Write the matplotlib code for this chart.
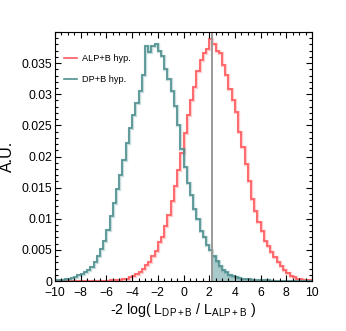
import matplotlib
matplotlib.use("Agg")
import matplotlib.pyplot as plt
from matplotlib.ticker import MultipleLocator, FuncFormatter
import numpy as np

plt.rcParams['font.family'] = ['Liberation Sans', 'DejaVu Sans']
plt.rcParams['mathtext.fontset'] = 'custom'
plt.rcParams['mathtext.rm'] = 'Liberation Sans'
plt.rcParams['mathtext.it'] = 'Liberation Sans:italic'

# binning of the test statistic: 80 bins of 0.25 from -10 to 10
bin_edges = np.linspace(-10, 10, 81)

# DP+B hypothesis (teal)
dp_b = [0.0001, 0.0002, 0.0002, 0.0003, 0.0004, 0.0005, 0.0007, 0.0009,
        0.0011, 0.0014, 0.0018, 0.0022, 0.0030, 0.0040, 0.0051, 0.0064,
        0.0082, 0.0104, 0.0126, 0.0148, 0.0170, 0.0195, 0.0222, 0.0245,
        0.0266, 0.0286, 0.0306, 0.0331, 0.0378, 0.0368, 0.0378, 0.0381,
        0.0370, 0.0361, 0.0340, 0.0325, 0.0305, 0.0281, 0.0250, 0.0212,
        0.0183, 0.0157, 0.0138, 0.0115, 0.0099, 0.0080, 0.0070, 0.0058,
        0.0049, 0.0040, 0.0032, 0.0024, 0.0018, 0.0014, 0.0010, 0.0008,
        0.0006, 0.0005, 0.0004, 0.0003, 0.0003, 0.0002, 0.0002, 0.0001,
        0.0001, 0.0001, 0.0001, 0, 0, 0, 0, 0, 0, 0, 0, 0, 0, 0, 0, 0]

# ALP+B hypothesis (red)
alp_b = [0, 0, 0, 0, 0, 0, 0, 0, 0, 0, 0, 0, 0, 0, 0, 0, 0,
         0.0001, 0.0001, 0.0001, 0.0002, 0.0003, 0.0004, 0.0006, 0.0008,
         0.0011, 0.0015, 0.0019, 0.0025, 0.0031, 0.0040, 0.0048, 0.0062,
         0.0070, 0.0088, 0.0106, 0.0128, 0.0152, 0.0178, 0.0206, 0.0237,
         0.0266, 0.0290, 0.0312, 0.0338, 0.0355, 0.0366, 0.0372, 0.0389,
         0.0381, 0.0369, 0.0366, 0.0347, 0.0331, 0.0309, 0.0291, 0.0272,
         0.0240, 0.0216, 0.0188, 0.0160, 0.0131, 0.0113, 0.0095, 0.0080,
         0.0065, 0.0056, 0.0047, 0.0038, 0.0031, 0.0024, 0.0018, 0.0013,
         0.0008, 0.0006, 0.0004, 0.0003, 0.0002, 0.0001, 0.0001]

# observed value of the test statistic
observed = 2.2

red = '#ff5a5f'
teal = '#4f8f8f'

fig = plt.figure(figsize=(3.46, 3.31), dpi=100)
ax = fig.add_axes([55 / 346, 50 / 331, 257 / 346, 249 / 331])

# shaded tail of the DP+B distribution beyond the observed value
dp_arr = np.array(dp_b)
i0 = np.searchsorted(bin_edges, observed) - 1
xs = np.concatenate([[observed], bin_edges[i0 + 1:]])
ys = np.concatenate([dp_arr[i0:], [dp_arr[-1]]])
ax.fill_between(xs, ys, step='post', color='#a8caca', lw=0)
ax.vlines(bin_edges[i0 + 1], 0, dp_arr[i0 + 1], color=teal, lw=0.7,
          linestyles=':')

# histograms (light halo + core line)
ax.stairs(alp_b, bin_edges, color=red, lw=2.4, alpha=0.3)
ax.stairs(alp_b, bin_edges, color=red, lw=1.2, label='ALP+B hyp.')
ax.stairs(dp_b, bin_edges, color=teal, lw=2.4, alpha=0.3)
ax.stairs(dp_b, bin_edges, color=teal, lw=1.2, label='DP+B hyp.')

ax.axvline(observed, color='#999999', lw=1.4)

ax.set_xlim(-10, 10)
ax.set_ylim(0, 0.04)

ax.xaxis.set_major_locator(MultipleLocator(2))
ax.xaxis.set_minor_locator(MultipleLocator(0.5))
ax.yaxis.set_major_locator(MultipleLocator(0.005))
ax.yaxis.set_minor_locator(MultipleLocator(0.001))
# no label on the top tick, like the original
ax.yaxis.set_major_formatter(
    FuncFormatter(lambda v, p: '' if v > 0.0375 else '%g' % round(v, 4)))
ax.tick_params(which='both', direction='in', top=True, right=True,
               labelsize=8.8, width=0.8)
ax.tick_params(axis='x', pad=4.5)
ax.tick_params(axis='y', pad=2)
ax.tick_params(which='major', length=4)
ax.tick_params(which='minor', length=2.2)
for s in ax.spines.values():
    s.set_linewidth(0.8)

ax.set_ylabel('A.U.', fontsize=11.5, labelpad=5)
ax.set_xlabel(r'-2 log( L$_{\mathrm{DP+B}}$ / L$_{\mathrm{ALP+B}}$ )',
              fontsize=10.2, labelpad=1)

handles, labels = ax.get_legend_handles_labels()
leg = ax.legend(handles, labels, loc='upper left',
                bbox_to_anchor=(0.035, 0.91), frameon=False, fontsize=6.6,
                handlelength=1.4, handletextpad=0.55, labelspacing=1.3,
                borderpad=0, borderaxespad=0)

fig.savefig('out.png', dpi=100)
